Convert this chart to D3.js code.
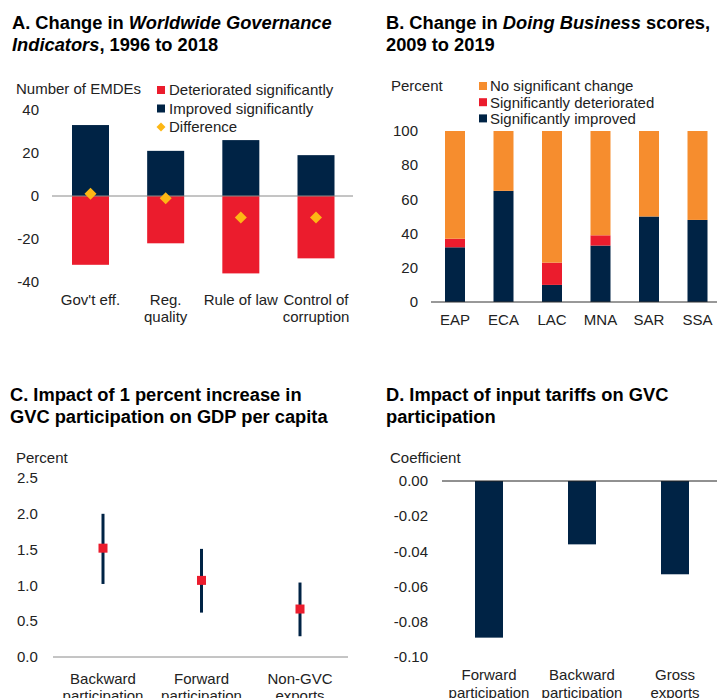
<!DOCTYPE html>
<html>
<head>
<meta charset="utf-8">
<script src="https://cdn.jsdelivr.net/npm/d3@7"></script>
<style>
  html, body { margin: 0; padding: 0; background: #fff; }
  svg { display: block; font-family: "Liberation Sans", Arial, sans-serif; }
  .title { font-size: 18.3px; font-weight: bold; fill: #000; }
  .lbl { font-size: 15px; fill: #222; }
</style>
</head>
<body>
<svg id="chart" width="717" height="698"></svg>
<script>
// Panel A: Worldwide Governance Indicators, number of EMDEs
const govCats = ["Gov't eff.", "Reg. quality", "Rule of law", "Control of corruption"];
const govCatLines = [["Gov't eff."], ["Reg.", "quality"], ["Rule of law"], ["Control of", "corruption"]];
const govImproved = [33, 21, 26, 19];
const govDeteriorated = [-32, -22, -36, -29];
const govDifference = [1, -1, -10, -10];
const govTicks = [-40, -20, 0, 20, 40];

// Panel B: Doing Business scores, percent of economies
const dbCats = ["EAP", "ECA", "LAC", "MNA", "SAR", "SSA"];
const dbImproved = [32, 65, 10, 33, 50, 48];
const dbDeteriorated = [5, 0, 13, 6, 0, 0];
const dbNoChange = [63, 35, 77, 61, 50, 52];
const dbTicks = [0, 20, 40, 60, 80, 100];

// Panel C: GVC participation and GDP per capita
const gvcCats = ["Backward participation", "Forward participation", "Non-GVC exports"];
const gvcCatLines = [["Backward", "participation"], ["Forward", "participation"], ["Non-GVC", "exports"]];
const gvcEstimate = [1.52, 1.07, 0.67];
const gvcLower = [1.02, 0.62, 0.29];
const gvcUpper = [2.0, 1.51, 1.04];
const gvcTicks = [0, 0.5, 1.0, 1.5, 2.0, 2.5];

// Panel D: input tariffs and GVC participation
const tarCats = ["Forward participation", "Backward participation", "Gross exports"];
const tarCatLines = [["Forward", "participation"], ["Backward", "participation"], ["Gross", "exports"]];
const tarCoef = [-0.089, -0.036, -0.053];
const tarTicks = [-0.10, -0.08, -0.06, -0.04, -0.02, 0.00];

const NAVY = "#002345", RED = "#EB1C2D", ORANGE = "#F68D2E", GOLD = "#FDB714";

const svg = d3.select("#chart");

function title(x, y, parts) {
  // parts: array of lines; each line array of [text, italic]
  const t = svg.append("text").attr("class", "title").attr("x", x).attr("y", y);
  parts.forEach((line, i) => {
    line.forEach((seg, j) => {
      const ts = t.append("tspan").text(seg[0]).attr("font-style", seg[1] ? "italic" : "normal");
      if (j === 0) ts.attr("x", x).attr("dy", i === 0 ? 0 : 22);
    });
  });
}

function yTickLabels(g, scale, ticks, x, fmt, anchor) {
  g.selectAll(null).data(ticks).join("text")
    .attr("class", "lbl")
    .attr("x", x)
    .attr("y", d => scale(d))
    .attr("dy", "0.35em")
    .attr("text-anchor", anchor || "end")
    .text(fmt);
}

function catLabels(g, scale, cats, lines, y0, lh) {
  cats.forEach((c, i) => {
    const t = g.append("text").attr("class", "lbl").attr("text-anchor", "middle");
    lines[i].forEach((ln, k) => {
      t.append("tspan").attr("x", scale(c)).attr("y", y0 + k * lh).text(ln);
    });
  });
}

// ---------- Panel A ----------
{
  const g = svg.append("g");
  title(12, 29, [[["A. Change in ", false], ["Worldwide Governance", true]],
                 [["Indicators", true], [", 1996 to 2018", false]]]);
  const y = d3.scaleLinear().domain([-40, 40]).range([282, 110]);
  const x = d3.scalePoint().domain(govCats).range([90.5, 316]);
  const bw = 37;

  g.append("text").attr("class", "lbl").attr("x", 16).attr("y", 94).text("Number of EMDEs");
  yTickLabels(g, y, govTicks, 39, d => d3.format("d")(d).replace("−", "-"));

  g.selectAll(".imp").data(govCats).join("rect")
    .attr("x", d => x(d) - bw / 2).attr("width", bw)
    .attr("y", (d, i) => y(govImproved[i])).attr("height", (d, i) => y(0) - y(govImproved[i]))
    .attr("fill", NAVY);
  g.selectAll(".det").data(govCats).join("rect")
    .attr("x", d => x(d) - bw / 2).attr("width", bw)
    .attr("y", y(0)).attr("height", (d, i) => y(govDeteriorated[i]) - y(0))
    .attr("fill", RED);
  g.append("line").attr("x1", 52).attr("x2", 353).attr("y1", y(0)).attr("y2", y(0))
    .attr("stroke", "#8a8a8a").attr("stroke-width", 1);
  const dia = d3.symbol().type(d3.symbolSquare).size(72);
  g.selectAll(".diff").data(govCats).join("path")
    .attr("d", dia)
    .attr("transform", (d, i) => `translate(${x(d)},${y(govDifference[i])}) rotate(45)`)
    .attr("fill", GOLD);

  // legend
  const leg = [["Deteriorated significantly", RED, "sq"], ["Improved significantly", NAVY, "sq"], ["Difference", GOLD, "dia"]];
  leg.forEach((l, i) => {
    const cy = 90 + i * 18.5;
    if (l[2] === "sq") g.append("rect").attr("x", 157).attr("y", cy - 4).attr("width", 8).attr("height", 8).attr("fill", l[1]);
    else g.append("path").attr("d", d3.symbol().type(d3.symbolSquare).size(40))
      .attr("transform", `translate(161,${cy}) rotate(45)`).attr("fill", l[1]);
    g.append("text").attr("class", "lbl").attr("x", 169).attr("y", cy).attr("dy", "0.36em").text(l[0]);
  });

  catLabels(g, x, govCats, govCatLines, 305, 17);
}

// ---------- Panel B ----------
{
  const g = svg.append("g");
  title(386, 29, [[["B. Change in ", false], ["Doing Business", true], [" scores,", false]],
                  [["2009 to 2019", false]]]);
  const y = d3.scaleLinear().domain([0, 100]).range([302, 131]);
  const x = d3.scalePoint().domain(dbCats).range([455, 697.5]);
  const bw = 20;

  g.append("text").attr("class", "lbl").attr("x", 391).attr("y", 91).text("Percent");
  yTickLabels(g, y, dbTicks, 418, d => d);

  const stack = d3.stack().keys(["imp", "det", "none"])(
    dbCats.map((c, i) => ({ cat: c, imp: dbImproved[i], det: dbDeteriorated[i], none: dbNoChange[i] })));
  const colors = { imp: NAVY, det: RED, none: ORANGE };
  stack.forEach(layer => {
    g.selectAll(null).data(layer).join("rect")
      .attr("x", d => x(d.data.cat) - bw / 2).attr("width", bw)
      .attr("y", d => y(d[1])).attr("height", d => y(d[0]) - y(d[1]))
      .attr("fill", colors[layer.key]);
  });
  g.append("line").attr("x1", 431).attr("x2", 717).attr("y1", y(0)).attr("y2", y(0))
    .attr("stroke", "#333").attr("stroke-width", 1);

  const leg = [["No significant change", ORANGE], ["Significantly deteriorated", RED], ["Significantly improved", NAVY]];
  leg.forEach((l, i) => {
    const cy = 86 + i * 16.2;
    g.append("rect").attr("x", 479).attr("y", cy - 4).attr("width", 8).attr("height", 8).attr("fill", l[1]);
    g.append("text").attr("class", "lbl").attr("x", 490).attr("y", cy).attr("dy", "0.36em").text(l[0]);
  });

  g.selectAll(null).data(dbCats).join("text").attr("class", "lbl")
    .attr("x", d => x(d)).attr("y", 325).attr("text-anchor", "middle").text(d => d);
}

// ---------- Panel C ----------
{
  const g = svg.append("g");
  title(10, 401, [[["C. Impact of 1 percent increase in", false]],
                  [["GVC participation on GDP per capita", false]]]);
  const y = d3.scaleLinear().domain([0, 2.5]).range([657, 478]);
  const x = d3.scalePoint().domain(gvcCats).range([103, 300]);

  g.append("text").attr("class", "lbl").attr("x", 16).attr("y", 463).text("Percent");
  yTickLabels(g, y, gvcTicks, 17, d3.format(".1f"), "start");

  g.append("line").attr("x1", 53).attr("x2", 348).attr("y1", y(0)).attr("y2", y(0))
    .attr("stroke", "#8a8a8a").attr("stroke-width", 1);
  g.selectAll(".err").data(gvcCats).join("line")
    .attr("x1", d => x(d)).attr("x2", d => x(d))
    .attr("y1", (d, i) => y(gvcUpper[i])).attr("y2", (d, i) => y(gvcLower[i]))
    .attr("stroke", NAVY).attr("stroke-width", 3);
  const ms = 9;
  g.selectAll(".pt").data(gvcCats).join("rect")
    .attr("x", d => x(d) - ms / 2).attr("y", (d, i) => y(gvcEstimate[i]) - ms / 2)
    .attr("width", ms).attr("height", ms).attr("fill", RED);

  catLabels(g, x, gvcCats, gvcCatLines, 684, 17);
}

// ---------- Panel D ----------
{
  const g = svg.append("g");
  title(386, 401, [[["D. Impact of input tariffs on GVC", false]],
                   [["participation", false]]]);
  const y = d3.scaleLinear().domain([-0.1, 0]).range([657, 481]);
  const x = d3.scalePoint().domain(tarCats).range([489, 675]);
  const bw = 28;

  g.append("text").attr("class", "lbl").attr("x", 390).attr("y", 463).text("Coefficient");
  yTickLabels(g, y, tarTicks, 428, d => d3.format(".2f")(d).replace("−", "-"));

  g.selectAll(".bar").data(tarCats).join("rect")
    .attr("x", d => x(d) - bw / 2).attr("width", bw)
    .attr("y", y(0)).attr("height", (d, i) => y(tarCoef[i]) - y(0))
    .attr("fill", NAVY);
  g.append("line").attr("x1", 442).attr("x2", 717).attr("y1", y(0)).attr("y2", y(0))
    .attr("stroke", "#222").attr("stroke-width", 1);

  catLabels(g, x, tarCats, tarCatLines, 680, 18);
}
</script>
</body>
</html>
